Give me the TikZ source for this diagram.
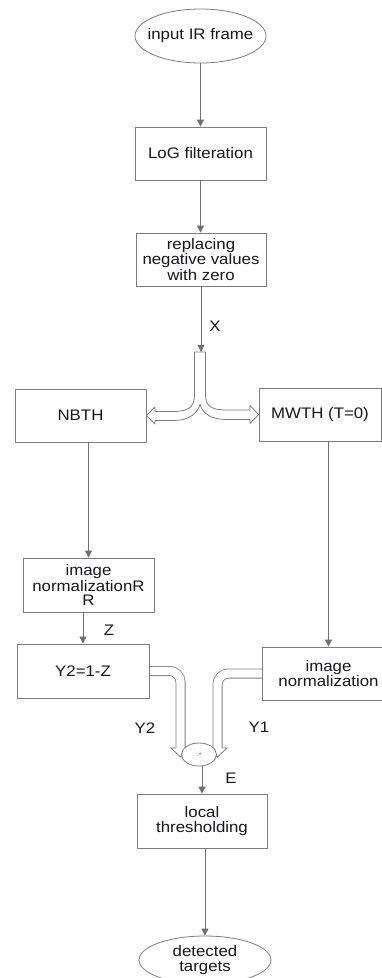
\documentclass[tikz,border=0pt]{standalone}
\usepackage{fontspec}
\setmainfont{Liberation Sans}[FakeStretch=1.1]
\usetikzlibrary{arrows.meta,shapes.geometric}
\definecolor{ln}{HTML}{707070}
\definecolor{bx}{HTML}{7C7C7C}
\definecolor{tx}{HTML}{16161E}
\begin{document}
\begin{tikzpicture}[x=1pt,y=-1pt,
  txt/.style={font=\fontsize{15.3}{14.2}\selectfont, text=tx},
  box/.style={txt, draw=bx, line width=0.8pt, fill=white, rectangle, inner sep=1pt, align=center},
  term/.style={txt, draw=bx, line width=0.8pt, fill=white, ellipse, inner sep=0pt, align=center},
  multnode/.style={draw=bx, line width=0.8pt, fill=white, ellipse, inner sep=0pt, font=\tiny, text=tx},
  lbl/.style={txt, inner sep=0pt},
  conn/.style={draw=ln, line width=0.9pt, -{Triangle[width=7pt,length=7pt]}},
  pipe/.style={draw=bx, line width=0.8pt, double=white, double distance=8.4pt, rounded corners=11pt},
  pipehead/.style={draw=bx, line width=0.8pt, fill=white, line join=miter}
]
\useasboundingbox (0,0) rectangle (382,978);

% named anchors for the merge pipes
\coordinate (y2out) at (149,671);
\coordinate (imnout) at (262,673.5);

% merge pipes (drawn first, boxes and the product node cover their ends)
\draw[pipe] (y2out) -| (180.5,748);
\draw[pipe] (imnout) -| (217.5,748);
\draw[pipehead] (175.9,748) -- (171,748) -- (180.5,757) -- (190,748) -- (185.1,748);
\draw[pipehead] (212.9,748) -- (208,748) -- (217.5,757) -- (227,748) -- (222.1,748);

% nodes
\node[term, minimum width=131pt, minimum height=54pt] (in) at (200.5,36) {\makebox[0pt]{input IR frame}};
\node[box, minimum width=131pt, minimum height=53pt] (log) at (200.5,153.5) {LoG filteration};
\node[box, minimum width=130pt, minimum height=53pt] (rep) at (201,259.5) {replacing\\negative values\\with zero};
\node[box, minimum width=131pt, minimum height=53pt] (nbth) at (80.5,415.5) {NBTH};
\node[box, minimum width=122pt, minimum height=53pt] (mwth) at (320,414.5) {MWTH (T=0)};
\node[box, minimum width=131pt, minimum height=54pt] (inr) at (88.5,585) {image\\normalizationR\\R};
\node[box, minimum width=132pt, minimum height=54pt] (y2) at (83,671) {Y2=1-Z};
\node[box, minimum width=133pt, minimum height=53pt] (imn) at (328.5,673.5) {image\\normalization};
\node[multnode, minimum width=35pt, minimum height=23pt] (mult) at (199,754.5) {.\,*};
\node[box, minimum width=130pt, minimum height=54pt] (lt) at (202,821) {local\\thresholding};
\node[term, minimum width=132pt, minimum height=48pt] (out) at (205,960) {\makebox[0pt]{detected}\\\makebox[0pt]{targets}};

% fork pipe
\coordinate (forktop) at (200,352);
\draw[pipehead, line join=round]
  (194.5,352) -- (194.5,395) .. controls (194.5,409) and (186,411.5) .. (172,411.5) -- (155,411.5)
  -- (155,407) -- (nbth.east) -- (155,424) -- (155,420.5) -- (174,420.5)
  .. controls (189,420.5) and (198,413) .. (200,404)
  .. controls (202,413) and (211,419.5) .. (226,419.5) -- (250,419.5)
  -- (250,423.5) -- (mwth.west) -- (250,405.5) -- (250,410) -- (228,410)
  .. controls (214,410) and (205.5,408) .. (205.5,395) -- (205.5,352) -- cycle;

% connectors
\draw[conn] (in.south) -- (log.north);
\draw[conn] (log.south) -- (log.south |- rep.north);
\draw[conn] (rep.south) -- (rep.south |- forktop);
\draw[conn] (nbth.south -| inr.north) -- (inr.north);
\draw[conn] (inr.south -| y2.north) -- (y2.north);
\draw[conn] (mwth.south -| imn.north) -- (imn.north);
\draw[conn] (lt.north |- mult.south) -- (lt.north);
\draw[conn] (out.north |- lt.south) -- (out.north);

% labels
\node[lbl] (lx) at (215,326) {X};
\node[lbl] (lz) at (109,630) {Z};
\node[lbl] (ly2) at (145,728) {Y2};
\node[lbl] (ly1) at (259,727) {Y1};
\node[lbl] (le) at (231,778) {E};
\end{tikzpicture}
\end{document}
